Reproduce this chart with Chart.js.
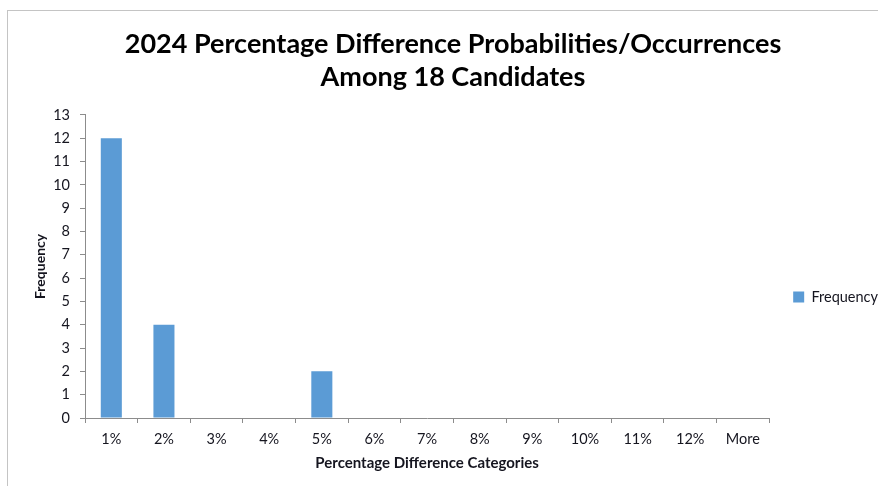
<!DOCTYPE html>
<html>
<head>
<meta charset="utf-8">
<script src="https://cdn.jsdelivr.net/npm/chart.js@4/dist/chart.umd.min.js"></script>
<style>
  html, body { margin: 0; padding: 0; background: #fff; overflow: hidden; }
  #wrap { position: relative; width: 878px; height: 486px; }
  #frame { position: absolute; left: 7px; top: 10px; width: 900px; height: 500px;
           border-left: 1px solid #c4c4c4; border-top: 1px solid #c4c4c4; }
  canvas { position: absolute; left: 0; top: 0; }
</style>
</head>
<body>
<div id="wrap">
  <div id="frame"></div>
  <canvas id="histChart" width="878" height="486"></canvas>
</div>
<script>
const categories = ['1%', '2%', '3%', '4%', '5%', '6%', '7%', '8%', '9%', '10%', '11%', '12%', 'More'];
const frequency = [12, 4, 0, 0, 2, 0, 0, 0, 0, 0, 0, 0, 0];
const yTicks = [0, 1, 2, 3, 4, 5, 6, 7, 8, 9, 10, 11, 12, 13];

const FONT = 'Lato, "Open Sans", sans-serif';
const TEXT = '#15151f';
const AXIS = '#8c8c8c';

// push the legend a bit further right and down from where the layout puts it
const legendNudge = {
    id: 'legendNudge',
    afterLayout(chart, args, opts) {
        const lg = chart.legend;
        if (!lg) return;
        lg.left += opts.x; lg.right += opts.x;
        lg.top += opts.y; lg.bottom += opts.y;
    }
};

const ctx = document.getElementById('histChart').getContext('2d');

new Chart(ctx, {
    type: 'bar',
    data: {
        labels: categories,
        datasets: [{
            label: 'Frequency',
            data: frequency,
            backgroundColor: '#5b9bd5',
            borderWidth: 0,
            categoryPercentage: 1.0,
            barPercentage: 0.4
        }]
    },
    options: {
        responsive: false,
        animation: false,
        layout: {
            padding: { left: 32, right: 4, top: 0, bottom: 14 }
        },
        scales: {
            x: {
                afterFit(scale) {
                    scale.height = 54;
                },
                grid: {
                    display: true,
                    drawOnChartArea: false,
                    offset: true,
                    color: AXIS,
                    tickLength: 5,
                    tickWidth: 1
                },
                border: { color: AXIS, width: 1 },
                ticks: {
                    color: TEXT,
                    padding: 8,
                    maxRotation: 0,
                    autoSkip: false,
                    font: { family: FONT, size: 14.5 }
                },
                title: {
                    display: true,
                    text: 'Percentage Difference Categories',
                    color: TEXT,
                    padding: { top: 0, bottom: 0 },
                    font: { family: FONT, size: 15, weight: 'bold' }
                }
            },
            y: {
                min: yTicks[0],
                max: yTicks[yTicks.length - 1],
                afterBuildTicks(scale) {
                    scale.ticks = yTicks.map(v => ({ value: v }));
                },
                afterFit(scale) {
                    scale.width = 53;
                },
                grid: {
                    display: true,
                    drawOnChartArea: false,
                    color: AXIS,
                    tickLength: 5
                },
                border: { color: AXIS, width: 1 },
                ticks: {
                    color: TEXT,
                    padding: 10,
                    font: { family: FONT, size: 14.5 }
                },
                title: {
                    display: true,
                    text: 'Frequency',
                    color: TEXT,
                    padding: { top: 0, bottom: 0 },
                    font: { family: FONT, size: 14, weight: 'bold' }
                }
            }
        },
        plugins: {
            title: {
                display: true,
                text: ['2024 Percentage Difference Probabilities/Occurrences', 'Among 18 Candidates'],
                color: '#000',
                padding: { top: 28, bottom: 21 },
                font: { family: FONT, size: 27, weight: 'bold', lineHeight: 1.22 }
            },
            legend: {
                display: true,
                position: 'right',
                labels: {
                    color: TEXT,
                    boxWidth: 11,
                    boxHeight: 11,
                    padding: 10,
                    font: { family: FONT, size: 14.5 }
                }
            },
            legendNudge: { x: 14, y: 61 },
            tooltip: { enabled: false }
        }
    },
    plugins: [legendNudge]
});
</script>
</body>
</html>
